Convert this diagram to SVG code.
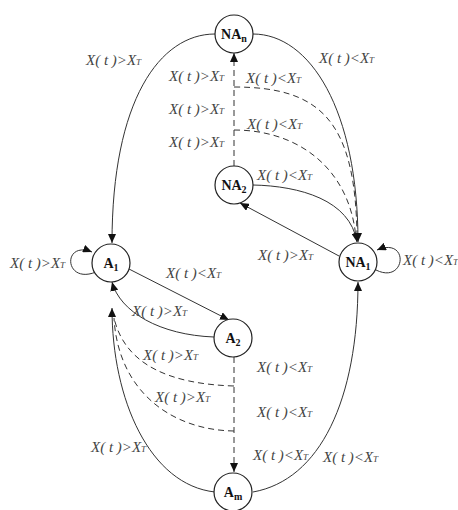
<svg xmlns="http://www.w3.org/2000/svg" width="458" height="510" viewBox="0 0 458 510">
<style>
.bg{fill:#fff}
.node circle{fill:#fff;stroke:#222;stroke-width:1.2}
.node text{font-family:"Liberation Serif",serif;font-weight:bold;font-size:14px;fill:#111;text-anchor:middle}
.e{fill:none;stroke:#333;stroke-width:1}
.d{stroke-dasharray:6,4}
.arr{marker-end:url(#ah)}
.lb{font-family:"Liberation Serif",serif;font-style:italic;font-size:15px;fill:#444}
.sub{font-size:9px}
</style>
<defs>
<marker id="ah" markerUnits="userSpaceOnUse" markerWidth="10" markerHeight="8" refX="9" refY="4" orient="auto">
<path d="M0,0 L9,4 L0,8 Z" fill="#111"/>
</marker>
</defs>
<rect class="bg" width="458" height="510"/>
<g id="connectors">
<path class="e arr" d="M215,34 C160,34 112,100 112,243"/>
<path class="e arr" d="M253,34 C310,34 358,110 358,242"/>
<path class="e d arr" d="M234,166 L234,53"/>
<path class="e d" d="M234,87 C320,87 356,120 357,238"/>
<path class="e d" d="M234,130 C300,130 350,170 356,238"/>
<path class="e arr" d="M253,185 C300,186 350,200 357,242"/>
<path class="e arr" d="M339,256 L240,203"/>
<path class="e arr" d="M376,270 C406,285 410,236 377,250"/>
<path class="e arr" d="M96,272 C64,285 62,240 92,252"/>
<path class="e arr" d="M129,269 L229,320"/>
<path class="e arr" d="M214,337 C160,335 120,312 112,282"/>
<path class="e d arr" d="M234,357 L234,472"/>
<path class="e d" d="M234,386 C170,384 125,365 114,318"/>
<path class="e d" d="M234,431 C170,430 118,390 114,318"/>
<path class="e arr" d="M215,492 C150,485 112,400 112,308"/>
<path class="e arr" d="M253,492 C320,480 358,400 358,282"/>
</g>
<g id="labels">
<text class="lb" x="86" y="65">X( t )&gt;X<tspan class="sub">T</tspan></text>
<text class="lb" x="319" y="63">X( t )&lt;X<tspan class="sub">T</tspan></text>
<text class="lb" x="169" y="81">X( t )&gt;X<tspan class="sub">T</tspan></text>
<text class="lb" x="169" y="114">X( t )&gt;X<tspan class="sub">T</tspan></text>
<text class="lb" x="169" y="147">X( t )&gt;X<tspan class="sub">T</tspan></text>
<text class="lb" x="246" y="83">X( t )&lt;X<tspan class="sub">T</tspan></text>
<text class="lb" x="247" y="129">X( t )&lt;X<tspan class="sub">T</tspan></text>
<text class="lb" x="257" y="180">X( t )&lt;X<tspan class="sub">T</tspan></text>
<text class="lb" x="258" y="260">X( t )&gt;X<tspan class="sub">T</tspan></text>
<text class="lb" x="403" y="265">X( t )&lt;X<tspan class="sub">T</tspan></text>
<text class="lb" x="10" y="268">X( t )&gt;X<tspan class="sub">T</tspan></text>
<text class="lb" x="166" y="278">X( t )&lt;X<tspan class="sub">T</tspan></text>
<text class="lb" x="132" y="316">X( t )&gt;X<tspan class="sub">T</tspan></text>
<text class="lb" x="143" y="360">X( t )&gt;X<tspan class="sub">T</tspan></text>
<text class="lb" x="155" y="402">X( t )&gt;X<tspan class="sub">T</tspan></text>
<text class="lb" x="91" y="452">X( t )&gt;X<tspan class="sub">T</tspan></text>
<text class="lb" x="257" y="372">X( t )&lt;X<tspan class="sub">T</tspan></text>
<text class="lb" x="257" y="417">X( t )&lt;X<tspan class="sub">T</tspan></text>
<text class="lb" x="253" y="460">X( t )&lt;X<tspan class="sub">T</tspan></text>
<text class="lb" x="323" y="462">X( t )&lt;X<tspan class="sub">T</tspan></text>
</g>
<g id="NAn" class="node"><circle cx="234" cy="34" r="19"/><text x="234" y="39">NA<tspan font-size="10" dy="3">n</tspan></text></g>
<g id="NA2" class="node"><circle cx="234" cy="185" r="19"/><text x="234" y="190">NA<tspan font-size="10" dy="3">2</tspan></text></g>
<g id="NA1" class="node"><circle cx="358" cy="262" r="19"/><text x="358" y="267">NA<tspan font-size="10" dy="3">1</tspan></text></g>
<g id="A1" class="node"><circle cx="111" cy="263" r="19"/><text x="111" y="268">A<tspan font-size="10" dy="3">1</tspan></text></g>
<g id="A2" class="node"><circle cx="233" cy="338" r="19"/><text x="233" y="343">A<tspan font-size="10" dy="3">2</tspan></text></g>
<g id="Am" class="node"><circle cx="233" cy="492" r="19"/><text x="233" y="497">A<tspan font-size="10" dy="3">m</tspan></text></g>
</svg>
